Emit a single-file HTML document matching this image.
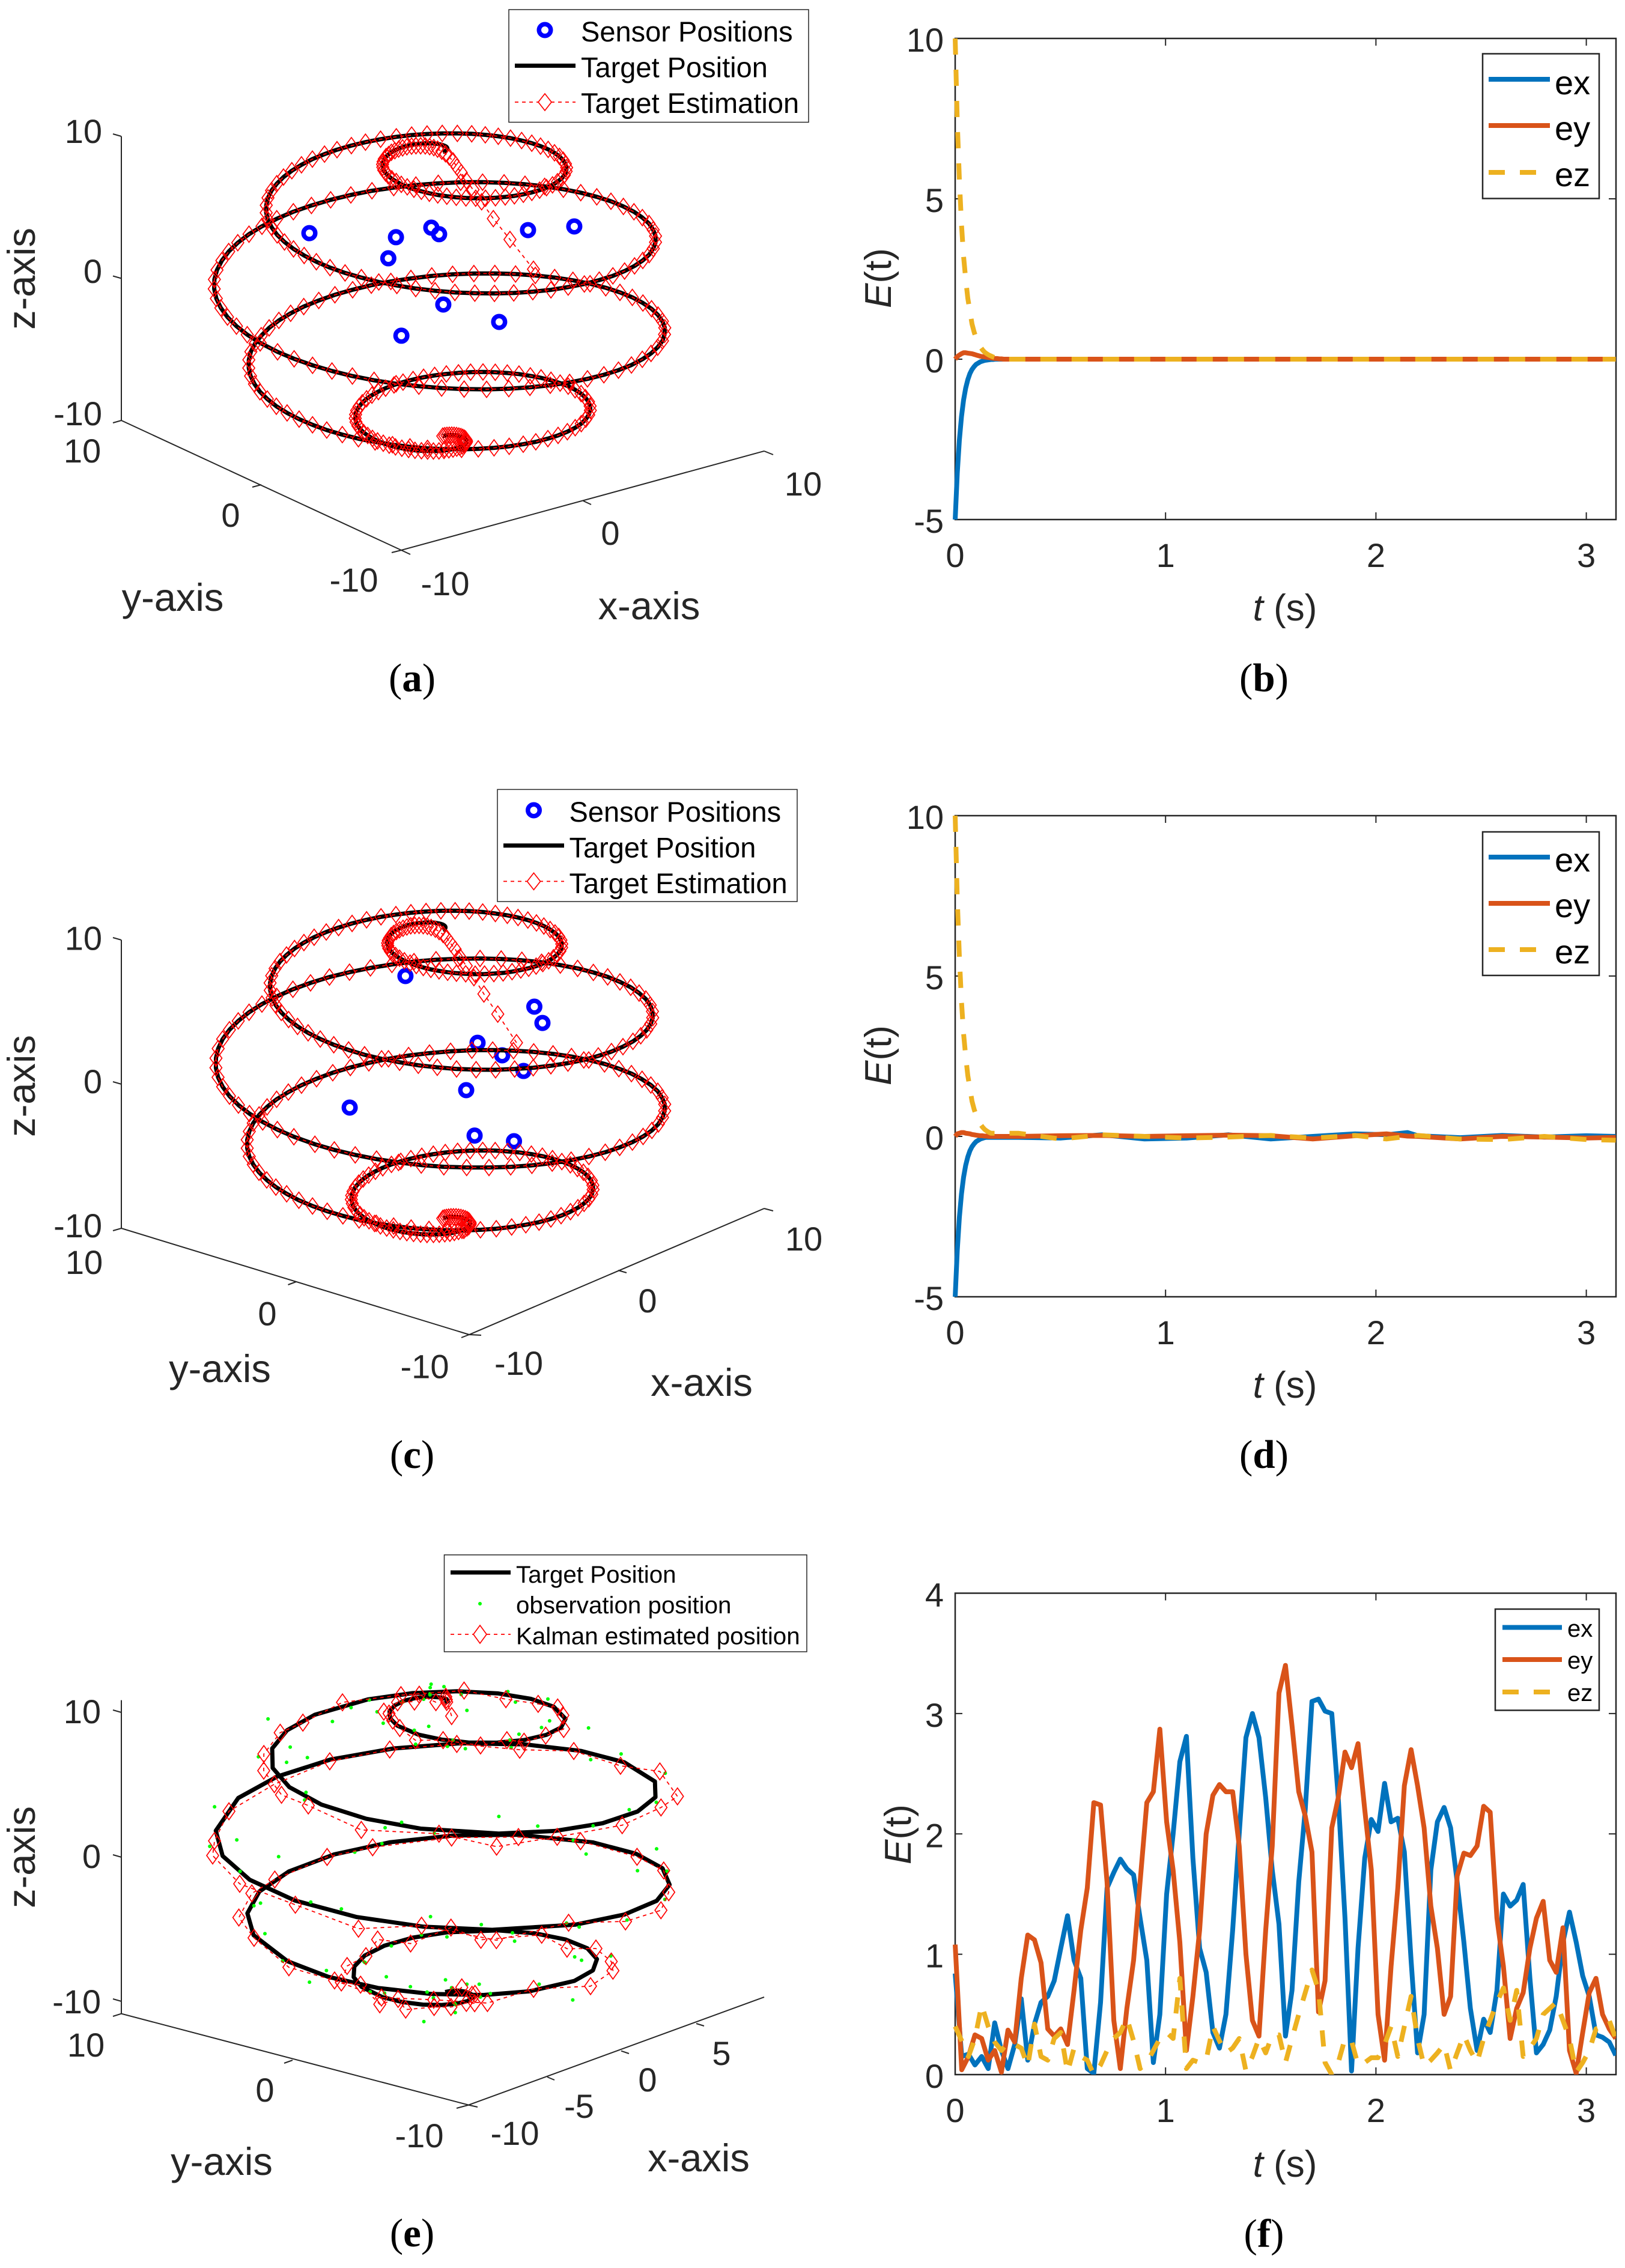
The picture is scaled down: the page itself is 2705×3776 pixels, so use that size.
<!DOCTYPE html>
<html lang="en">
<head>
<meta charset="utf-8">
<title>Target tracking figure panels a to f</title>
<style>
html,body{margin:0;padding:0;background:#fff}
svg{display:block}
text{font-family:"Liberation Sans",sans-serif;fill:#262626}
.lg{fill:#000}
.cap{font-family:"Liberation Serif",serif;font-size:67px;fill:#000;text-anchor:middle}
.tk{font-size:56px}
.ax{font-size:65px}
.eax{font-size:62px}
.tl{stroke:#262626;stroke-width:2;fill:none}
.box{stroke:#262626;stroke-width:2.5;fill:#fff}
</style>
</head>
<body>
<svg id="figure" xmlns="http://www.w3.org/2000/svg" width="2705" height="3776" viewBox="0 0 2705 3776">
<rect width="2705" height="3776" fill="#fff"/>
<defs>
<clipPath id="clip-b"><rect x="1586" y="64" width="1104" height="801"/></clipPath>
<clipPath id="clip-d"><rect x="1586" y="1358" width="1104" height="801"/></clipPath>
<clipPath id="clip-f"><rect x="1586" y="2652.5" width="1104" height="801.5"/></clipPath>
</defs>

<g id="panel-a">
<path class="tl" d="M202 227V700L668 916L1272 751M202 227L188 223M202 463.5L188 459.5M202 700L188 704M668 916L652 920M435 807L420 811M668 916L683 923M971 834L984 840M1272 751L1287 757"/>
<text class="tk" text-anchor="end" x="170" y="238">10</text>
<text class="tk" text-anchor="end" x="170" y="471">0</text>
<text class="tk" text-anchor="end" x="170" y="708">-10</text>
<text class="tk" text-anchor="middle" x="137" y="770">10</text>
<text class="tk" text-anchor="middle" x="384" y="877">0</text>
<text class="tk" text-anchor="middle" x="589" y="985">-10</text>
<text class="tk" text-anchor="middle" x="741" y="991">-10</text>
<text class="tk" text-anchor="middle" x="1016" y="907">0</text>
<text class="tk" text-anchor="middle" x="1337" y="825">10</text>
<text class="ax" transform="translate(58 464) rotate(-90)" text-anchor="middle">z-axis</text>
<text class="ax" text-anchor="middle" x="287.5" y="1017">y-axis</text>
<text class="ax" text-anchor="middle" x="1080.5" y="1031">x-axis</text>
<g id="plot-a"></g>
<g>
<rect x="847" y="16" width="499" height="187.5" fill="#fff" stroke="#262626" stroke-width="1.5"/>
<circle cx="907" cy="50" r="9.75" fill="none" stroke="#0000ff" stroke-width="7.5"/>
<line x1="857" y1="109.4" x2="958" y2="109.4" stroke="#000" stroke-width="7"/>
<line x1="857" y1="170" x2="958" y2="170" stroke="#f00" stroke-width="1.8" stroke-dasharray="6 6"/>
<path d="M907 156L918 170L907 184L896 170Z" fill="#fff" stroke="#f00" stroke-width="1.7"/>
<text class="lg" font-size="47" x="967" y="69">Sensor Positions</text>
<text class="lg" font-size="47" x="967" y="128.5">Target Position</text>
<text class="lg" font-size="47" x="967" y="188">Target Estimation</text>
</g>
<text class="cap" x="686" y="1151">(<tspan font-weight="bold">a</tspan>)</text>
</g>

<g id="panel-c">
<path class="tl" d="M202 1565V2045L781 2222L1272 2012M202 1565L188 1561M202 1805L188 1801M202 2045L188 2049M781 2222L768 2227M493 2134L479.5 2139M781 2222L801 2223M1029 2115L1043 2119M1272 2012L1287 2016"/>
<text class="tk" text-anchor="end" x="170" y="1581.5">10</text>
<text class="tk" text-anchor="end" x="170" y="1820">0</text>
<text class="tk" text-anchor="end" x="170" y="2060">-10</text>
<text class="tk" text-anchor="middle" x="140" y="2121">10</text>
<text class="tk" text-anchor="middle" x="445" y="2206.5">0</text>
<text class="tk" text-anchor="middle" x="707" y="2294.5">-10</text>
<text class="tk" text-anchor="middle" x="863.5" y="2289">-10</text>
<text class="tk" text-anchor="middle" x="1078" y="2185">0</text>
<text class="tk" text-anchor="middle" x="1338" y="2082">10</text>
<text class="ax" transform="translate(58 1808) rotate(-90)" text-anchor="middle">z-axis</text>
<text class="ax" text-anchor="middle" x="366" y="2301">y-axis</text>
<text class="ax" text-anchor="middle" x="1168" y="2324">x-axis</text>
<g id="plot-c"></g>
<g>
<rect x="828" y="1314.4" width="499" height="186.6" fill="#fff" stroke="#262626" stroke-width="1.5"/>
<circle cx="888.5" cy="1349" r="9.75" fill="none" stroke="#0000ff" stroke-width="7.5"/>
<line x1="838" y1="1407.8" x2="939" y2="1407.8" stroke="#000" stroke-width="7"/>
<line x1="838" y1="1467.4" x2="939" y2="1467.4" stroke="#f00" stroke-width="1.8" stroke-dasharray="6 6"/>
<path d="M888.5 1453.4L899.5 1467.4L888.5 1481.4L877.5 1467.4Z" fill="#fff" stroke="#f00" stroke-width="1.7"/>
<text class="lg" font-size="47" x="947.5" y="1368">Sensor Positions</text>
<text class="lg" font-size="47" x="947.5" y="1427.6">Target Position</text>
<text class="lg" font-size="47" x="947.5" y="1487">Target Estimation</text>
</g>
<text class="cap" x="686" y="2444">(<tspan font-weight="bold">c</tspan>)</text>
</g>

<g id="panel-e">
<path class="tl" d="M202 2830.6V3352.6L780 3504.6L1272 3325M202 2851L188 2847M202 3092L188 3088M202 3332L188 3328M202 3352.6L188 3357M780 3504.6L760 3510M487 3430L473 3435M780 3504.6L795 3508M911 3458L923 3463M1034 3414.6L1047 3419M1159 3369L1172 3373"/>
<text class="tk" text-anchor="end" x="168" y="2869">10</text>
<text class="tk" text-anchor="end" x="168" y="3110">0</text>
<text class="tk" text-anchor="end" x="168" y="3352">-10</text>
<text class="tk" text-anchor="middle" x="143" y="3424">10</text>
<text class="tk" text-anchor="middle" x="441" y="3499">0</text>
<text class="tk" text-anchor="middle" x="698" y="3575">-10</text>
<text class="tk" text-anchor="middle" x="857" y="3571">-10</text>
<text class="tk" text-anchor="middle" x="964" y="3526">-5</text>
<text class="tk" text-anchor="middle" x="1078" y="3482">0</text>
<text class="tk" text-anchor="middle" x="1201" y="3438">5</text>
<text class="ax" transform="translate(58 3092) rotate(-90)" text-anchor="middle">z-axis</text>
<text class="ax" text-anchor="middle" x="369" y="3621">y-axis</text>
<text class="ax" text-anchor="middle" x="1163" y="3615">x-axis</text>
<g id="plot-e"></g>
<g>
<rect x="739.5" y="2588.7" width="603.5" height="161.3" fill="#fff" stroke="#262626" stroke-width="1.5"/>
<line x1="750" y1="2618" x2="850" y2="2618" stroke="#000" stroke-width="7"/>
<circle cx="799" cy="2670" r="3" fill="#00ff00"/>
<line x1="750" y1="2721" x2="850" y2="2721" stroke="#f00" stroke-width="1.8" stroke-dasharray="6 6"/>
<path d="M799 2706L810 2721L799 2736L788 2721Z" fill="#fff" stroke="#f00" stroke-width="1.7"/>
<text class="lg" font-size="40.3" x="859" y="2635">Target Position</text>
<text class="lg" font-size="40.3" x="859" y="2686">observation position</text>
<text class="lg" font-size="40.3" x="859" y="2737.6">Kalman estimated position</text>
</g>
<text class="cap" x="686" y="3740">(<tspan font-weight="bold">e</tspan>)</text>
</g>

<g id="panel-b">
<g id="plot-b"></g>
<g>
<rect x="2468" y="89.5" width="194" height="241" fill="#fff" stroke="#262626" stroke-width="2.5"/>
<line x1="2478" y1="132" x2="2580" y2="132" stroke="#0072BD" stroke-width="8"/>
<line x1="2478" y1="209" x2="2580" y2="209" stroke="#D95319" stroke-width="8"/>
<line x1="2478" y1="287" x2="2580" y2="287" stroke="#EDB120" stroke-width="8" stroke-dasharray="27 25"/>
<text class="lg" font-size="56" x="2588" y="157">ex</text>
<text class="lg" font-size="56" x="2588" y="233">ey</text>
<text class="lg" font-size="56" x="2588" y="310">ez</text>
</g>
<text class="eax" transform="translate(1483 463) rotate(-90)" text-anchor="middle"><tspan font-style="italic">E</tspan>(t)</text>
<text class="eax" x="2139" y="1033" text-anchor="middle"><tspan font-style="italic">t</tspan> (s)</text>
<text class="cap" x="2104" y="1151">(<tspan font-weight="bold">b</tspan>)</text>
</g>

<g id="panel-d">
<g id="plot-d"></g>
<g>
<rect x="2468" y="1385" width="194" height="239" fill="#fff" stroke="#262626" stroke-width="2.5"/>
<line x1="2478" y1="1427" x2="2580" y2="1427" stroke="#0072BD" stroke-width="8"/>
<line x1="2478" y1="1504" x2="2580" y2="1504" stroke="#D95319" stroke-width="8"/>
<line x1="2478" y1="1581" x2="2580" y2="1581" stroke="#EDB120" stroke-width="8" stroke-dasharray="27 25"/>
<text class="lg" font-size="56" x="2588" y="1451">ex</text>
<text class="lg" font-size="56" x="2588" y="1527">ey</text>
<text class="lg" font-size="56" x="2588" y="1604">ez</text>
</g>
<text class="eax" transform="translate(1483 1757) rotate(-90)" text-anchor="middle"><tspan font-style="italic">E</tspan>(t)</text>
<text class="eax" x="2139" y="2327" text-anchor="middle"><tspan font-style="italic">t</tspan> (s)</text>
<text class="cap" x="2104" y="2444">(<tspan font-weight="bold">d</tspan>)</text>
</g>

<g id="panel-f">
<g id="plot-f"></g>
<g>
<rect x="2489" y="2679" width="173" height="168.5" fill="#fff" stroke="#262626" stroke-width="2.5"/>
<line x1="2501" y1="2709.5" x2="2600" y2="2709.5" stroke="#0072BD" stroke-width="8"/>
<line x1="2501" y1="2763" x2="2600" y2="2763" stroke="#D95319" stroke-width="8"/>
<line x1="2501" y1="2817" x2="2600" y2="2817" stroke="#EDB120" stroke-width="8" stroke-dasharray="27 25"/>
<text class="lg" font-size="40" x="2609" y="2725">ex</text>
<text class="lg" font-size="40" x="2609" y="2778">ey</text>
<text class="lg" font-size="40" x="2609" y="2832">ez</text>
</g>
<text class="eax" transform="translate(1516 3054) rotate(-90)" text-anchor="middle"><tspan font-style="italic">E</tspan>(t)</text>
<text class="eax" x="2139" y="3624" text-anchor="middle"><tspan font-style="italic">t</tspan> (s)</text>
<text class="cap" x="2104" y="3741">(<tspan font-weight="bold">f</tspan>)</text>
</g>
</svg>

<script>
// Spiral trajectory (a), (c) and (e)
const targetX = [0,.10,.20,.29,.37,.44,.50,.54,.56,.56,.54,.50,.43,.35,.24,.11,-.05,-.22,-.41,-.61,-.83,-1.05,-1.29,-1.52,-1.75,-1.98,-2.20,-2.41,-2.60,-2.78,-2.93,-3.05,-3.14,-3.20,-3.22,-3.21,-3.16,-3.07,-2.93,-2.76,-2.55,-2.29,-2.00,-1.67,-1.31,-.92,-.50,-.05,.40,.88,1.36,1.85,2.33,2.80,3.26,3.71,4.12,4.51,4.86,5.16,5.42,5.63,5.79,5.89,5.93,5.91,5.82,5.68,5.46,5.19,4.86,4.47,4.01,3.51,2.96,2.37,1.72,1.05,.38,-.35,-1.04,-1.76,-2.48,-3.18,-3.87,-4.52,-5.14,-5.72,-6.25,-6.73,-7.14,-7.48,-7.76,-7.95,-8.07,-8.11,-8.07,-7.94,-7.73,-7.43,-7.06,-6.61,-6.09,-5.50,-4.84,-4.12,-3.36,-2.56,-1.71,-.85,.04,.93,1.83,2.72,3.58,4.41,5.21,5.96,6.66,7.30,7.87,8.35,8.77,9.09,9.33,9.47,9.52,9.47,9.32,9.08,8.74,8.32,7.81,7.21,6.55,5.80,5.00,4.15,3.25,2.31,1.35,.37,-.62,-1.61,-2.58,-3.52,-4.44,-5.31,-6.12,-6.88,-7.58,-8.19,-8.73,-9.17,-9.52,-9.78,-9.94,-10,
-9.94,-9.78,-9.52,-9.17,-8.73,-8.19,-7.58,-6.88,-6.12,-5.31,-4.44,-3.52,-2.58,-1.61,-.62,.37,1.35,2.31,3.25,4.15,5.00,5.80,6.55,7.21,7.81,8.32,8.74,9.08,9.32,9.47,9.52,9.47,9.33,9.09,8.77,8.35,7.87,7.30,6.66,5.96,5.21,4.41,3.58,2.72,1.83,.93,.04,-.85,-1.71,-2.56,-3.36,-4.12,-4.84,-5.50,-6.09,-6.61,-7.06,-7.43,-7.73,-7.94,-8.07,-8.11,-8.07,-7.95,-7.76,-7.48,-7.14,-6.73,-6.25,-5.72,-5.14,-4.52,-3.87,-3.18,-2.48,-1.76,-1.04,-.35,.38,1.05,1.72,2.37,2.96,3.51,4.01,4.47,4.86,5.19,5.46,5.68,5.82,5.91,5.93,5.89,5.79,5.63,5.42,5.16,4.86,4.51,4.12,3.71,3.26,2.80,2.33,1.85,1.36,.88,.40,-.05,-.50,-.92,-1.31,-1.67,-2.00,-2.29,-2.55,-2.76,-2.93,-3.07,-3.16,-3.21,-3.22,-3.20,-3.14,-3.05,-2.93,-2.78,-2.60,-2.41,-2.20,-1.98,-1.75,-1.52,-1.29,-1.05,-.83,-.61,-.41,-.22,-.05,.11,.24,.35,.43,.50,.54,.56,.56,.54,.50,.44,.37,.29,.20,.10,0];
const targetY = [0,.01,.04,.09,.16,.24,.34,.45,.57,.70,.84,.98,1.12,1.25,1.37,1.49,1.59,1.68,1.74,1.79,1.81,1.80,1.76,1.70,1.60,1.48,1.33,1.14,.93,.68,.42,.13,-.18,-.51,-.85,-1.20,-1.56,-1.92,-2.27,-2.62,-2.95,-3.26,-3.56,-3.82,-4.05,-4.25,-4.41,-4.53,-4.60,-4.62,-4.60,-4.52,-4.39,-4.21,-3.97,-3.69,-3.35,-2.97,-2.55,-2.08,-1.58,-1.04,-.48,.10,.70,1.30,1.91,2.52,3.11,3.69,4.23,4.75,5.23,5.67,6.06,6.39,6.67,6.88,7.02,7.10,7.10,7.03,6.88,6.66,6.36,6.00,5.57,5.07,4.51,3.89,3.23,2.52,1.77,1.00,.20,-.61,-1.43,-2.24,-3.04,-3.82,-4.58,-5.29,-5.96,-6.58,-7.14,-7.63,-8.05,-8.39,-8.65,-8.83,-8.91,-8.91,-8.81,-8.63,-8.35,-7.99,-7.54,-7.02,-6.41,-5.74,-5.00,-4.21,-3.37,-2.48,-1.57,-.63,.32,1.27,2.22,3.15,4.05,4.91,5.74,6.50,7.21,7.84,8.40,8.88,9.27,9.56,9.76,9.86,9.87,9.77,9.57,9.28,8.89,8.41,7.85,7.21,6.49,5.71,4.86,3.97,3.04,2.06,1.08,.08,
-1.08,-2.06,-3.04,-3.97,-4.86,-5.71,-6.49,-7.21,-7.85,-8.41,-8.89,-9.28,-9.57,-9.77,-9.87,-9.86,-9.76,-9.56,-9.27,-8.88,-8.40,-7.84,-7.21,-6.50,-5.74,-4.91,-4.05,-3.15,-2.22,-1.27,-.32,.63,1.57,2.48,3.37,4.21,5.00,5.74,6.41,7.02,7.54,7.99,8.35,8.63,8.81,8.91,8.91,8.83,8.65,8.39,8.05,7.63,7.14,6.58,5.96,5.29,4.58,3.82,3.04,2.24,1.43,.61,-.20,-1.00,-1.77,-2.52,-3.23,-3.89,-4.51,-5.07,-5.57,-6.00,-6.36,-6.66,-6.88,-7.03,-7.10,-7.10,-7.02,-6.88,-6.67,-6.39,-6.06,-5.67,-5.23,-4.75,-4.23,-3.69,-3.11,-2.52,-1.91,-1.30,-.70,-.10,.48,1.04,1.58,2.08,2.55,2.97,3.35,3.69,3.97,4.21,4.39,4.52,4.60,4.62,4.60,4.53,4.41,4.25,4.05,3.82,3.56,3.26,2.95,2.62,2.27,1.92,1.56,1.20,.85,.51,.18,-.13,-.42,-.68,-.93,-1.14,-1.33,-1.48,-1.60,-1.70,-1.76,-1.80,-1.81,-1.79,-1.74,-1.68,-1.59,-1.49,-1.37,-1.25,-1.12,-.98,-.84,-.70,-.57,-.45,-.34,-.24,-.16,-.09,-.04,-.01,0];
const targetZ = [10,10,10,10,9.99,9.99,9.98,9.98,9.97,9.96,9.95,9.94,9.93,9.92,9.90,9.89,9.87,9.86,9.84,9.82,9.80,9.78,9.76,9.74,9.71,9.69,9.66,9.64,9.61,9.58,9.55,9.52,9.49,9.46,9.43,9.39,9.36,9.32,9.29,9.25,9.21,9.17,9.13,9.09,9.05,9.00,8.96,8.92,8.87,8.82,8.78,8.73,8.68,8.63,8.58,8.53,8.47,8.42,8.37,8.31,8.25,8.20,8.14,8.08,8.02,7.96,7.90,7.84,7.78,7.71,7.65,7.58,7.52,7.45,7.39,7.32,7.25,7.18,7.11,7.04,6.97,6.90,6.82,6.75,6.68,6.60,6.53,6.45,6.37,6.29,6.22,6.14,6.06,5.98,5.90,5.82,5.74,5.65,5.57,5.49,5.40,5.32,5.23,5.15,5.06,4.98,4.89,4.80,4.71,4.62,4.54,4.45,4.36,4.27,4.18,4.09,3.99,3.90,3.81,3.72,3.62,3.53,3.44,3.34,3.25,3.15,3.06,2.96,2.87,2.77,2.68,2.58,2.48,2.39,2.29,2.19,2.09,1.99,1.90,1.80,1.70,1.60,1.50,1.40,1.30,1.20,1.10,1.00,.90,.80,.71,.61,.51,.41,.31,.21,.11,.01,
-.11,-.21,-.31,-.41,-.51,-.61,-.71,-.80,-.90,-1.00,-1.10,-1.20,-1.30,-1.40,-1.50,-1.60,-1.70,-1.80,-1.90,-1.99,-2.09,-2.19,-2.29,-2.39,-2.48,-2.58,-2.68,-2.77,-2.87,-2.96,-3.06,-3.15,-3.25,-3.34,-3.44,-3.53,-3.62,-3.72,-3.81,-3.90,-3.99,-4.09,-4.18,-4.27,-4.36,-4.45,-4.54,-4.62,-4.71,-4.80,-4.89,-4.98,-5.06,-5.15,-5.23,-5.32,-5.40,-5.49,-5.57,-5.65,-5.74,-5.82,-5.90,-5.98,-6.06,-6.14,-6.22,-6.29,-6.37,-6.45,-6.53,-6.60,-6.68,-6.75,-6.82,-6.90,-6.97,-7.04,-7.11,-7.18,-7.25,-7.32,-7.39,-7.45,-7.52,-7.58,-7.65,-7.71,-7.78,-7.84,-7.90,-7.96,-8.02,-8.08,-8.14,-8.20,-8.25,-8.31,-8.37,-8.42,-8.47,-8.53,-8.58,-8.63,-8.68,-8.73,-8.78,-8.82,-8.87,-8.92,-8.96,-9.00,-9.05,-9.09,-9.13,-9.17,-9.21,-9.25,-9.29,-9.32,-9.36,-9.39,-9.43,-9.46,-9.49,-9.52,-9.55,-9.58,-9.61,-9.64,-9.66,-9.69,-9.71,-9.74,-9.76,-9.78,-9.80,-9.82,-9.84,-9.86,-9.87,-9.89,-9.90,-9.92,-9.93,-9.94,-9.95,-9.96,-9.97,-9.98,-9.98,-9.99,-9.99,-10,-10,-10,-10];

// Sensor positions
const sensorAX = [-7.35,-2.58,-.63,-.2,4.7,7.25,-3.0,.03,3.11,-2.28];
const sensorAY = [0,0,0,0,0,0,0,0,0,0];
const sensorAZ = [6.85,4.9,4.89,4.28,2.86,2.23,3.56,-.75,-3.05,-2.14];
const sensorCX = [-2.53,6.21,6.76,2.36,4.03,5.48,1.59,-6.31,2.16,4.83];
const sensorCY = [0,0,0,0,0,0,0,0,0,0];
const sensorCZ = [7.92,1.97,.6,1.15,-.45,-2.17,-1.8,.45,-5.2,-6.76];

// Panel (b) errors
const timeB = [0,.01,.02,.03,.04,.05,.06,.07,.08,.09,.1,.11,.12,.13,.14,.15,.16,.17,.18,.19,.2,.21,.22,.23,.24,.25,.26,.27,.28,.29,.3,1,2,3,3.14];
const exB = [-5,-3.55,-2.52,-1.79,-1.27,-.9,-.64,-.45,-.32,-.23,-.16,-.12,-.08,-.06,-.04,-.03,-.02,-.01,-.01,0,0,0,0,0,0,0,0,0,0,0,0,0,0,0,0];
const eyB = [0,.08,.13,.17,.2,.2,.19,.18,.17,.15,.13,.11,.09,.08,.07,.06,.05,.04,.03,.02,.02,.01,.01,0,0,0,0,0,0,0,0,0,0,0,0];
const ezB = [10,7.4,5.6,4.2,3.2,2.5,1.9,1.5,1.1,.85,.65,.5,.38,.29,.22,.17,.13,.1,.07,.05,.04,.03,.02,.01,.01,0,0,0,0,0,0,0,0,0,0];

// Panel (d) errors
const timeD = [0,.01,.02,.03,.04,.05,.06,.07,.08,.09,.1,.11,.12,.13,.14,.15,.16,.17,.18,.19,.2,.21,.22,.23,.24,.25,.26,.27,.28,.29,.3,.5,.7,.9,1.1,1.3,1.5,1.7,1.9,2.05,2.15,2.2,2.4,2.6,2.8,3,3.14];
const exD = [-5,-3.55,-2.52,-1.79,-1.27,-.9,-.64,-.45,-.32,-.23,-.16,-.12,-.08,-.06,-.04,-.03,-.03,-.03,-.03,-.03,-.03,-.03,-.03,-.03,-.03,-.03,-.03,-.03,-.03,-.03,-.03,-.05,.05,-.08,-.05,.05,-.08,0,.08,.05,.12,.02,-.04,.03,-.02,.02,0];
const eyD = [0,.08,.1,.12,.12,.1,.09,.08,.06,.05,.04,.03,.02,.02,.01,.01,0,0,0,0,0,0,0,0,0,0,0,0,0,0,0,.02,.03,0,.02,.04,.02,-.08,.02,.08,.01,0,-.08,0,-.02,-.05,-.03];
const ezD = [10,7.4,5.6,4.2,3.2,2.5,1.9,1.5,1.1,.85,.65,.5,.38,.29,.22,.17,.13,.1,.1,.1,.1,.1,.1,.1,.1,.1,.1,.1,.1,.1,.1,-.08,.05,0,-.05,-.02,.03,-.05,.03,-.08,0,.03,-.08,-.1,0,-.1,-.12];

// Panel (f) errors
const timeF = [0,.031,.063,.094,.126,.157,.188,.22,.251,.283,.314,.345,.377,.408,.44,.471,.502,.534,.565,.597,.628,.659,.691,.722,.754,.785,.816,.848,.879,.911,.942,.973,1.005,1.036,1.068,1.099,1.13,1.162,1.193,1.225,1.256,1.287,1.319,1.35,1.382,1.413,1.444,1.476,1.507,1.539,1.57,1.601,1.633,1.664,1.696,1.727,1.758,1.79,1.821,1.853,1.884,1.915,1.947,1.978,2.01,2.041,2.072,2.104,2.135,2.167,2.198,2.229,2.261,2.292,2.324,2.355,2.386,2.418,2.449,2.481,2.512,2.543,2.575,2.606,2.638,2.669,2.7,2.732,2.763,2.795,2.826,2.857,2.889,2.92,2.952,2.983,3.014,3.046,3.077,3.109,3.14];
const exF = [.84,.15,.17,.08,.15,.05,.43,.2,.05,.25,.63,.12,.42,.6,.65,.78,1.05,1.32,.95,.8,.05,.01,.6,1.55,1.68,1.79,1.71,1.66,1.3,.95,.1,.5,1.5,2.0,2.6,2.81,1.8,1.05,.85,.35,.22,.5,1.2,2.0,2.8,3.0,2.8,2.3,1.7,1.25,.32,.7,1.6,2.2,3.1,3.12,3.02,3.0,2.3,1.3,.03,1.05,1.8,2.12,2.02,2.42,2.1,2.13,1.85,.95,.18,.5,1.7,2.1,2.22,2.05,1.6,1.1,.55,.2,.46,.35,.7,1.5,1.4,1.45,1.58,.8,.18,.25,.37,.65,1.1,1.35,1.1,.82,.65,.33,.31,.27,.16];
const eyF = [1.08,.04,.15,.33,.3,.12,.2,.02,.37,.27,.8,1.16,1.12,.93,.38,.32,.38,.25,.7,1.2,1.55,2.26,2.24,1.6,.45,.05,.55,.95,1.6,2.26,2.35,2.87,2.1,1.7,1.1,.2,.65,1.2,2.0,2.32,2.41,2.35,2.35,1.9,1.0,.45,.32,1.2,1.9,3.17,3.4,2.9,2.35,2.15,1.85,.52,.78,2.05,2.3,2.68,2.55,2.75,2.2,1.7,.5,.12,.9,1.55,2.4,2.7,2.4,2.05,1.4,1.05,.5,.65,1.65,1.84,1.82,1.9,2.23,2.18,1.3,.9,.3,.55,.68,1.05,1.3,1.44,.95,.85,1.22,.2,.01,.35,.68,.8,.5,.38,.3];
const ezF = [.4,.28,.15,.3,.58,.4,.27,.2,.27,.25,.22,.07,.42,.15,.12,.3,.35,.02,.22,.15,.12,0,.08,.2,.3,.35,.47,.28,.05,.1,.2,.3,.35,.3,.8,.05,.12,.1,.12,.4,.28,.18,.22,.3,.03,.15,.3,.18,.33,.33,.1,.3,.5,.68,.87,.7,.1,0,.1,.3,.28,.08,.1,.14,.14,.25,.4,.15,.4,.65,.3,.07,.12,.18,.25,.03,.18,.33,.2,.1,.3,.45,.6,.72,.45,.7,.15,.22,.3,.5,.55,.6,.45,.3,.02,.1,.2,.38,.4,.45,.3];

// Panel (e) observation scatter around the target
const obsDX = [.6,-.8,.3,-.5,.7,.2,-.9,.4,-.3,.8,-.6,.1,.9,-.7,.3,-.4,.5,-1,.6,.2,-.5,.8,-.2,.4,-.9,.7,-.1,.5,-.6,1,-.3,.2,-.8,.6,.3,-.4,.9,-.7,.1,.5,-.2,-.9,.8,.3,-.6,.4,-1,.7,.2,-.3,.6,-.8,.5,.1,-.7,.9,-.4,.3,-.5,.8,-.2,.6,-.9,.4,.7,-.1,-.6,1,-.3,.5,-.8,.2,.6,-.4,.9,-.7,.3,.1,-.5,.8,-.9,.4,-.2,.7,-.6,.5,.3,-1,.6,-.1,.8,-.4,.2,-.7,.9,-.3,.5,-.6,.4,.1,-.2];
const obsDY = [-.4,.7,-.9,.2,.5,-.6,.8,-.1,.9,-.7,.3,-.5,.1,.6,-1,.4,.7,-.2,-.8,.5,.9,-.3,.6,-.7,.2,-.4,1,-.6,.3,-.1,.7,-.9,.4,.5,-.8,.2,-.3,.9,-.5,.6,-.7,.1,.4,-1,.8,-.2,.5,-.6,.9,.3,-.4,.2,-.9,.7,-.1,.6,-.8,.4,1,-.5,.2,-.7,.3,.8,-.6,.5,-.2,.1,-.9,.7,.4,-.3,-.8,.6,.2,-.5,.9,-.7,.3,-.1,.5,-.6,.8,.1,-.9,.4,-.3,.7,-.8,.6,.2,-.4,1,-.5,.1,.7,-.6,.3,-.9,.4,.5];
const obsDZ = [.5,.2,-.6,.8,-.3,.4,-.7,.1,.6,-.9,.3,.7,-.4,-.2,.8,-.5,.1,.9,-.6,.3,.4,-.8,.2,.7,-.3,-.6,.5,.1,.9,-.7,.2,-.4,.6,.8,-.5,-.1,.4,-.9,.7,.2,-.3,.6,-.8,.5,.1,.9,-.4,-.7,.3,.6,-.2,.8,-.6,.1,.4,-.9,.5,.7,-.3,.2,-.8,.6,.4,-.5,.1,.9,-.7,.3,.5,-.4,-.2,.8,-.6,.7,.1,-.9,.3,.4,-.5,.6,.2,-.7,.9,-.1,.5,-.8,.3,.6,-.4,.2,.7,-.9,.5,-.2,.8,-.6,.1,.4,-.3,.6,-.5];

// Axis tick labels
const xTicksE = [0,1,2,3];
const yTicksBD = [-5,0,5,10];
const yTicksF = [0,1,2,3,4];

const SVG_NS = 'http://www.w3.org/2000/svg';
const HEAD = 31;

function make(parent, tag, name, attrs) {
  const el = document.createElementNS(SVG_NS, tag);
  
  
  for (const k in attrs) el.setAttribute(k, attrs[k]);
  parent.appendChild(el);
  return el;
}
function projection(cx, cy, ux, uy, vx, vy, w) {
  return function (x, y, z) {
    return [cx + ux * x + vx * y, cy + uy * x + vy * y - w * z];
  };
}
function linear(d0, d1, r0, r1) {
  return function (v) {
    return r0 + (v - d0) * (r1 - r0) / (d1 - d0);
  };
}
function toPath(points) {
  return points.map(function (p, i) {
    return (i ? 'L' : 'M') + p[0].toFixed(1) + ' ' + p[1].toFixed(1);
  }).join('');
}
function drawLine3d(g, name, points, stroke, width, dash) {
  const attrs = { d: toPath(points), fill: 'none', stroke: stroke, 'stroke-width': width, 'stroke-linejoin': 'round' };
  if (dash) attrs['stroke-dasharray'] = dash;
  return make(g, 'path', name, attrs);
}
function drawDiamonds(g, points, rx, ry) {
  points.forEach(function (p) {
    const d = 'M' + p[0].toFixed(1) + ' ' + (p[1] - ry).toFixed(1) + 'L' + (p[0] + rx).toFixed(1) + ' ' + p[1].toFixed(1) + 'L' + p[0].toFixed(1) + ' ' + (p[1] + ry).toFixed(1) + 'L' + (p[0] - rx).toFixed(1) + ' ' + p[1].toFixed(1) + 'Z';
    make(g, 'path', 'estimate-marker', { d: d, fill: 'none', stroke: '#ff0000', 'stroke-width': 1.7 });
  });
}
function drawHelixPanel(id, proj, sx, sy, sz, ex, ey, ez) {
  const g = document.getElementById(id);
  sx.forEach(function (v, i) {
    const p = proj(v, sy[i], sz[i]);
    make(g, 'circle', 'sensor-position', { cx: p[0], cy: p[1], r: 9.75, fill: 'none', stroke: '#0000ff', 'stroke-width': 7.5 });
  });
  const target = targetX.map(function (v, i) { return proj(v, targetY[i], targetZ[i]); });
  const estimate = targetX.map(function (v, i) {
    const h = i < HEAD;
    return proj(v - (h ? ex[i] : 0), targetY[i] - (h ? ey[i] : 0), targetZ[i] - (h ? ez[i] : 0));
  });
  drawLine3d(g, 'target-position-line', target, '#000', 7);
  drawLine3d(g, 'target-estimation-line', estimate, '#ff0000', 1.8, '6 6');
  drawDiamonds(g, estimate, 10, 13.5);
}
function drawErrorPanel(id, clip, xs, yTicks, yScale, t, ex, ey, ez, dash) {
  const g = document.getElementById(id);
  const xScale = linear(0, 1, 1590, 1940.2);
  const top = yScale(yTicks[yTicks.length - 1]);
  const bottom = yScale(yTicks[0]);
  make(g, 'rect', 'plot-frame', { x: 1590, y: top, width: 1100, height: bottom - top, fill: '#fff', stroke: '#262626', 'stroke-width': 2.5 });
  xs.forEach(function (v) {
    const x = xScale(v);
    make(g, 'path', 'x-tick', { d: 'M' + x + ' ' + bottom + 'v-12M' + x + ' ' + top + 'v12', stroke: '#262626', 'stroke-width': 2, fill: 'none' });
    const lb = make(g, 'text', 'x-tick-label', { x: x, y: bottom + 79, 'text-anchor': 'middle', 'font-size': 56 });
    lb.textContent = String(v);
  });
  yTicks.forEach(function (v) {
    const y = yScale(v);
    make(g, 'path', 'y-tick', { d: 'M1590 ' + y + 'h12M2690 ' + y + 'h-12', stroke: '#262626', 'stroke-width': 2, fill: 'none' });
    const lb = make(g, 'text', 'y-tick-label', { x: 1571, y: y + 22, 'text-anchor': 'end', 'font-size': 56 });
    lb.textContent = String(v);
  });
  const series = make(g, 'g', 'error-series', { 'clip-path': 'url(#' + clip + ')' });
  function line(name, vals, color, dashArr) {
    const pts = vals.map(function (v, i) { return [xScale(t[i]), yScale(v)]; });
    drawLine3d(series, name, pts, color, 8, dashArr);
  }
  line('ex-line', ex, '#0072BD');
  line('ey-line', ey, '#D95319');
  line('ez-line', ez, '#EDB120', dash);
}

const projA = projection(737, 489.5, 30.2, -8.25, -23.3, -10.8, 23.65);
const projC = projection(737, 1788.5, 24.55, -10.5, -28.95, -8.85, 24);
const projE = projection(741, 3076, 24.8, -8.9, -29.3, -7.75, 24.05);

drawHelixPanel('plot-a', projA, sensorAX, sensorAY, sensorAZ, exB, eyB, ezB);
drawHelixPanel('plot-c', projC, sensorCX, sensorCY, sensorCZ, exD, eyD, ezD);

drawErrorPanel('plot-b', 'clip-b', xTicksE, yTicksBD, linear(-5, 10, 865, 64), timeB, exB, eyB, ezB, '27 25');
drawErrorPanel('plot-d', 'clip-d', xTicksE, yTicksBD, linear(-5, 10, 2159, 1358), timeD, exD, eyD, ezD, '27 25');
drawErrorPanel('plot-f', 'clip-f', xTicksE, yTicksF, linear(0, 4, 3454, 2652.5), timeF, exF, eyF, ezF, '27 25');

// Panel (e): coarse sampling of the same trajectory, Kalman estimate trails it by the panel (f) errors
(function () {
  const g = document.getElementById('plot-e');
  const idx = timeF.map(function (t) { return Math.min(314, Math.round(t * 100)); });
  const tx = idx.map(function (k) { return targetX[k]; });
  const ty = idx.map(function (k) { return targetY[k]; });
  const tz = idx.map(function (k) { return targetZ[k]; });
  const target = tx.map(function (v, j) { return projE(v, ty[j], tz[j]); });
  drawLine3d(g, 'target-position-line', target, '#000', 7);
  tx.forEach(function (v, j) {
    const p = projE(v + (obsDX[j] || 0), ty[j] + (obsDY[j] || 0), tz[j] + (obsDZ[j] || 0));
    make(g, 'circle', 'observation-point', { cx: p[0], cy: p[1], r: 3, fill: '#00ff00' });
  });
  function lagOffset(series, errors, j) {
    if (!j) return errors[0];
    const step = series[j] - series[j - 1];
    const size = Math.min(errors[j], Math.abs(step) * 1.3 + 0.4);
    return step < 0 ? -size : size;
  }
  const kalman = tx.map(function (v, j) {
    const sz = j % 2 ? 0.6 : -0.6;
    return projE(v - lagOffset(tx, exF, j), ty[j] - lagOffset(ty, eyF, j), tz[j] + sz * ezF[j]);
  });
  drawLine3d(g, 'kalman-estimate-line', kalman, '#ff0000', 1.8, '6 6');
  drawDiamonds(g, kalman, 10, 14);
})();
</script>
</body>
</html>
